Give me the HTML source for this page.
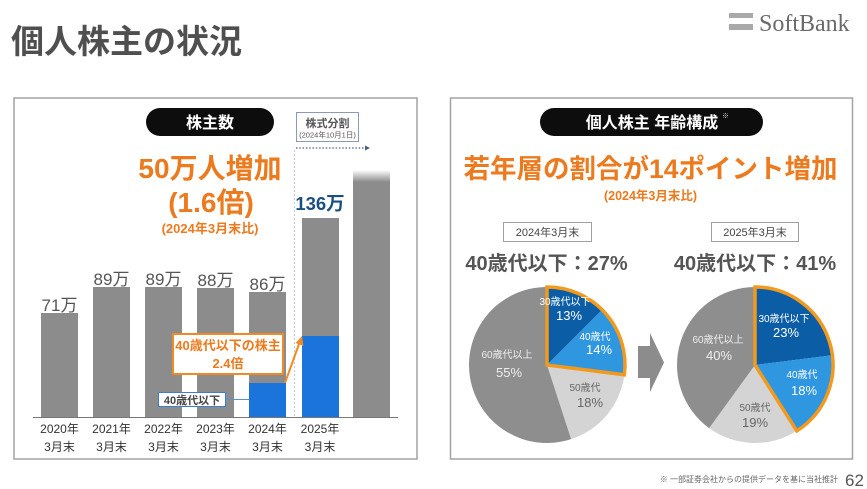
<!DOCTYPE html>
<html><head><meta charset="utf-8"><style>
html,body{margin:0;padding:0;background:#fff;}
svg{display:block;font-family:"Liberation Sans","Noto Sans CJK JP",sans-serif;}
</style></head><body>
<svg width="867" height="489" viewBox="0 0 867 489" xmlns="http://www.w3.org/2000/svg">
<defs>
<linearGradient id="fade" x1="0" y1="0" x2="0" y2="1">
<stop offset="0" stop-color="#fff"/><stop offset="1" stop-color="#8c8c8c"/>
</linearGradient>
</defs>
<rect width="867" height="489" fill="#fff"/>
<!-- title -->
<text x="11" y="53" font-size="33" font-weight="bold" fill="#4f4f4f">個人株主の状況</text>
<!-- logo -->
<rect x="729" y="13" width="24" height="5" fill="#a9a9a9"/>
<rect x="729" y="24" width="24" height="6" fill="#a9a9a9"/>
<text x="759" y="31" font-size="24" fill="#6a6a6a" style="font-family:'Liberation Serif',serif">SoftBank</text>

<!-- panels -->
<rect x="14" y="98" width="403" height="361" fill="#fff" stroke="#a3a3a3" stroke-width="1.5"/>
<rect x="450.5" y="98" width="402" height="361" fill="#fff" stroke="#a3a3a3" stroke-width="1.5"/>

<!-- LEFT PANEL -->
<rect x="146" y="108" width="128" height="28" rx="14" fill="#0d0d0d"/>
<text x="210" y="128" font-size="16" font-weight="bold" fill="#fff" text-anchor="middle">株主数</text>
<text x="210" y="178" font-size="28" font-weight="bold" fill="#ec7a1e" text-anchor="middle">50万人増加</text>
<text x="211" y="212" font-size="28" font-weight="bold" fill="#ec7a1e" text-anchor="middle">(1.6倍)</text>
<text x="210" y="233" font-size="13" font-weight="bold" fill="#ec7a1e" text-anchor="middle">(2024年3月末比)</text>

<rect x="296.5" y="112.5" width="62" height="29" fill="#fff" stroke="#8c9bb5" stroke-width="1"/>
<text x="327.5" y="127" font-size="11" font-weight="bold" fill="#555" text-anchor="middle">株式分割</text>
<text x="327.5" y="137.5" font-size="7.5" fill="#555" text-anchor="middle">(2024年10月1日)</text>
<line x1="296" y1="148" x2="366" y2="148" stroke="#4a5f80" stroke-width="1.2" stroke-dasharray="1.5 1.8"/>
<polygon points="365,145.5 370,148 365,150.5" fill="#4a5f80"/>
<line x1="294.5" y1="150" x2="294.5" y2="417" stroke="#c5ccd5" stroke-width="1.2" stroke-dasharray="2 2"/>

<!-- bars -->
<rect x="41" y="313" width="37" height="105" fill="#8c8c8c"/>
<rect x="93" y="287" width="37" height="131" fill="#8c8c8c"/>
<rect x="145" y="287" width="37" height="131" fill="#8c8c8c"/>
<rect x="197" y="288" width="37" height="130" fill="#8c8c8c"/>
<rect x="249" y="292" width="37" height="126" fill="#8c8c8c"/>
<rect x="249" y="383" width="37" height="35" fill="#1b74db"/>
<rect x="302" y="218" width="37" height="200" fill="#8c8c8c"/>
<rect x="302" y="336" width="37" height="82" fill="#1b74db"/>
<rect x="353" y="170" width="37" height="12" fill="url(#fade)"/>
<rect x="353" y="182" width="37" height="236" fill="#8c8c8c"/>

<g font-size="17" fill="#555" text-anchor="middle">
<text x="59.5" y="311">71万</text>
<text x="111.5" y="285">89万</text>
<text x="163.5" y="285">89万</text>
<text x="215.5" y="286">88万</text>
<text x="267.5" y="290">86万</text>
</g>
<text x="320" y="210" font-size="18.5" font-weight="bold" fill="#1b4f80" text-anchor="middle">136万</text>

<line x1="33" y1="417.5" x2="398" y2="417.5" stroke="#777" stroke-width="1"/>

<g font-size="12" fill="#333" text-anchor="middle">
<text x="59.5" y="433">2020年</text><text x="59.5" y="451">3月末</text>
<text x="111.5" y="433">2021年</text><text x="111.5" y="451">3月末</text>
<text x="163.5" y="433">2022年</text><text x="163.5" y="451">3月末</text>
<text x="215.5" y="433">2023年</text><text x="215.5" y="451">3月末</text>
<text x="267.5" y="433">2024年</text><text x="267.5" y="451">3月末</text>
<text x="320" y="433">2025年</text><text x="320" y="451">3月末</text>
</g>

<!-- callout -->
<line x1="285" y1="383" x2="299" y2="344" stroke="#f08a24" stroke-width="2"/>
<polygon points="302,336 303.5,346 295.5,343" fill="#f08a24"/>
<rect x="173" y="334" width="110" height="40" fill="#fff" stroke="#f08a24" stroke-width="2"/>
<text x="228" y="350" font-size="13" font-weight="bold" fill="#ec7a1e" text-anchor="middle">40歳代以下の株主</text>
<text x="228" y="368" font-size="13" font-weight="bold" fill="#ec7a1e" text-anchor="middle">2.4倍</text>

<line x1="226" y1="399.5" x2="249" y2="399.5" stroke="#5a90d0" stroke-width="1"/>
<rect x="158.5" y="392.5" width="67" height="14" fill="#fff" stroke="#3a7fd0" stroke-width="1"/>
<text x="192" y="404" font-size="11" font-weight="bold" fill="#444" text-anchor="middle">40歳代以下</text>

<!-- RIGHT PANEL -->
<rect x="540" y="108" width="223" height="28" rx="14" fill="#0d0d0d"/>
<text x="652" y="128" font-size="16" font-weight="bold" fill="#fff" text-anchor="middle">個人株主 年齢構成</text>
<text x="722" y="118" font-size="7" fill="#ddd">※</text>
<text x="650.5" y="178" font-size="26.5" font-weight="bold" fill="#ec7a1e" text-anchor="middle">若年層の割合が14ポイント増加</text>
<text x="650.5" y="200" font-size="12.5" font-weight="bold" fill="#ec7a1e" text-anchor="middle">(2024年3月末比)</text>

<rect x="503.5" y="222.5" width="88" height="19" fill="#fff" stroke="#a0a0a0" stroke-width="1"/>
<text x="547.5" y="236" font-size="11" fill="#444" text-anchor="middle">2024年3月末</text>
<rect x="711.5" y="222.5" width="87" height="19" fill="#fff" stroke="#a0a0a0" stroke-width="1"/>
<text x="755" y="236" font-size="11" fill="#444" text-anchor="middle">2025年3月末</text>

<text x="546.5" y="270" font-size="20" font-weight="bold" fill="#555" text-anchor="middle">40歳代以下：27%</text>
<text x="755" y="270" font-size="20" font-weight="bold" fill="#555" text-anchor="middle">40歳代以下：41%</text>

<!-- left pie center 547,365 r 78 -->
<path d="M547,365 L547,287 A78,78 0 0 1 602.15,309.85 Z" fill="#0b5ea6"/>
<path d="M547,365 L602.15,309.85 A78,78 0 0 1 624.38,374.78 Z" fill="#2f96e0"/>
<path d="M547,365 L624.38,374.78 A78,78 0 0 1 571.10,439.18 Z" fill="#d4d4d4"/>
<path d="M547,365 L571.10,439.18 A78,78 0 1 1 547,287 Z" fill="#8e8e8e"/>
<path d="M547,365 L547,287 A78,78 0 0 1 624.38,374.78 Z" fill="none" stroke="#f39a1e" stroke-width="3.5" stroke-linejoin="miter"/>

<g fill="#fff" text-anchor="middle">
<text x="565" y="305" font-size="10">30歳代以下</text>
<text x="569" y="320" font-size="13">13%</text>
<text x="595" y="340" font-size="10">40歳代</text>
<text x="599" y="354" font-size="13">14%</text>
<text x="507" y="358" font-size="10" fill="#eee">60歳代以上</text>
<text x="509" y="377" font-size="13" fill="#eee">55%</text>
</g>
<text x="585" y="391" font-size="10" fill="#666" text-anchor="middle">50歳代</text>
<text x="590" y="407" font-size="13" fill="#666" text-anchor="middle">18%</text>

<!-- arrow -->
<polygon points="638,346 650,346 650,333 664,362.5 650,392 650,378 638,378" fill="#8c8c8c"/>

<!-- right pie center 755,365 r 78 -->
<path d="M755,365 L755,287 A78,78 0 0 1 832.38,355.22 Z" fill="#0b5ea6"/>
<path d="M755,365 L832.38,355.22 A78,78 0 0 1 796.79,430.86 Z" fill="#2f96e0"/>
<path d="M755,365 L796.79,430.86 A78,78 0 0 1 709.15,428.10 Z" fill="#d4d4d4"/>
<path d="M755,365 L709.15,428.10 A78,78 0 0 1 755,287 Z" fill="#8e8e8e"/>
<path d="M755,365 L755,287 A78,78 0 0 1 796.79,430.86 Z" fill="none" stroke="#f39a1e" stroke-width="3.5" stroke-linejoin="miter"/>

<g fill="#fff" text-anchor="middle">
<text x="784" y="322" font-size="10">30歳代以下</text>
<text x="786" y="337" font-size="13">23%</text>
<text x="802" y="378" font-size="10">40歳代</text>
<text x="804" y="395" font-size="13">18%</text>
<text x="718" y="343" font-size="10" fill="#eee">60歳代以上</text>
<text x="719" y="360" font-size="13" fill="#eee">40%</text>
</g>
<text x="755" y="411" font-size="10" fill="#666" text-anchor="middle">50歳代</text>
<text x="755" y="427" font-size="13" fill="#666" text-anchor="middle">19%</text>

<!-- footer -->
<text x="838" y="482" font-size="8" fill="#666" text-anchor="end">※ 一部証券会社からの提供データを基に当社推計</text>
<text x="845" y="486" font-size="17" fill="#555">62</text>
</svg>
</body></html>
